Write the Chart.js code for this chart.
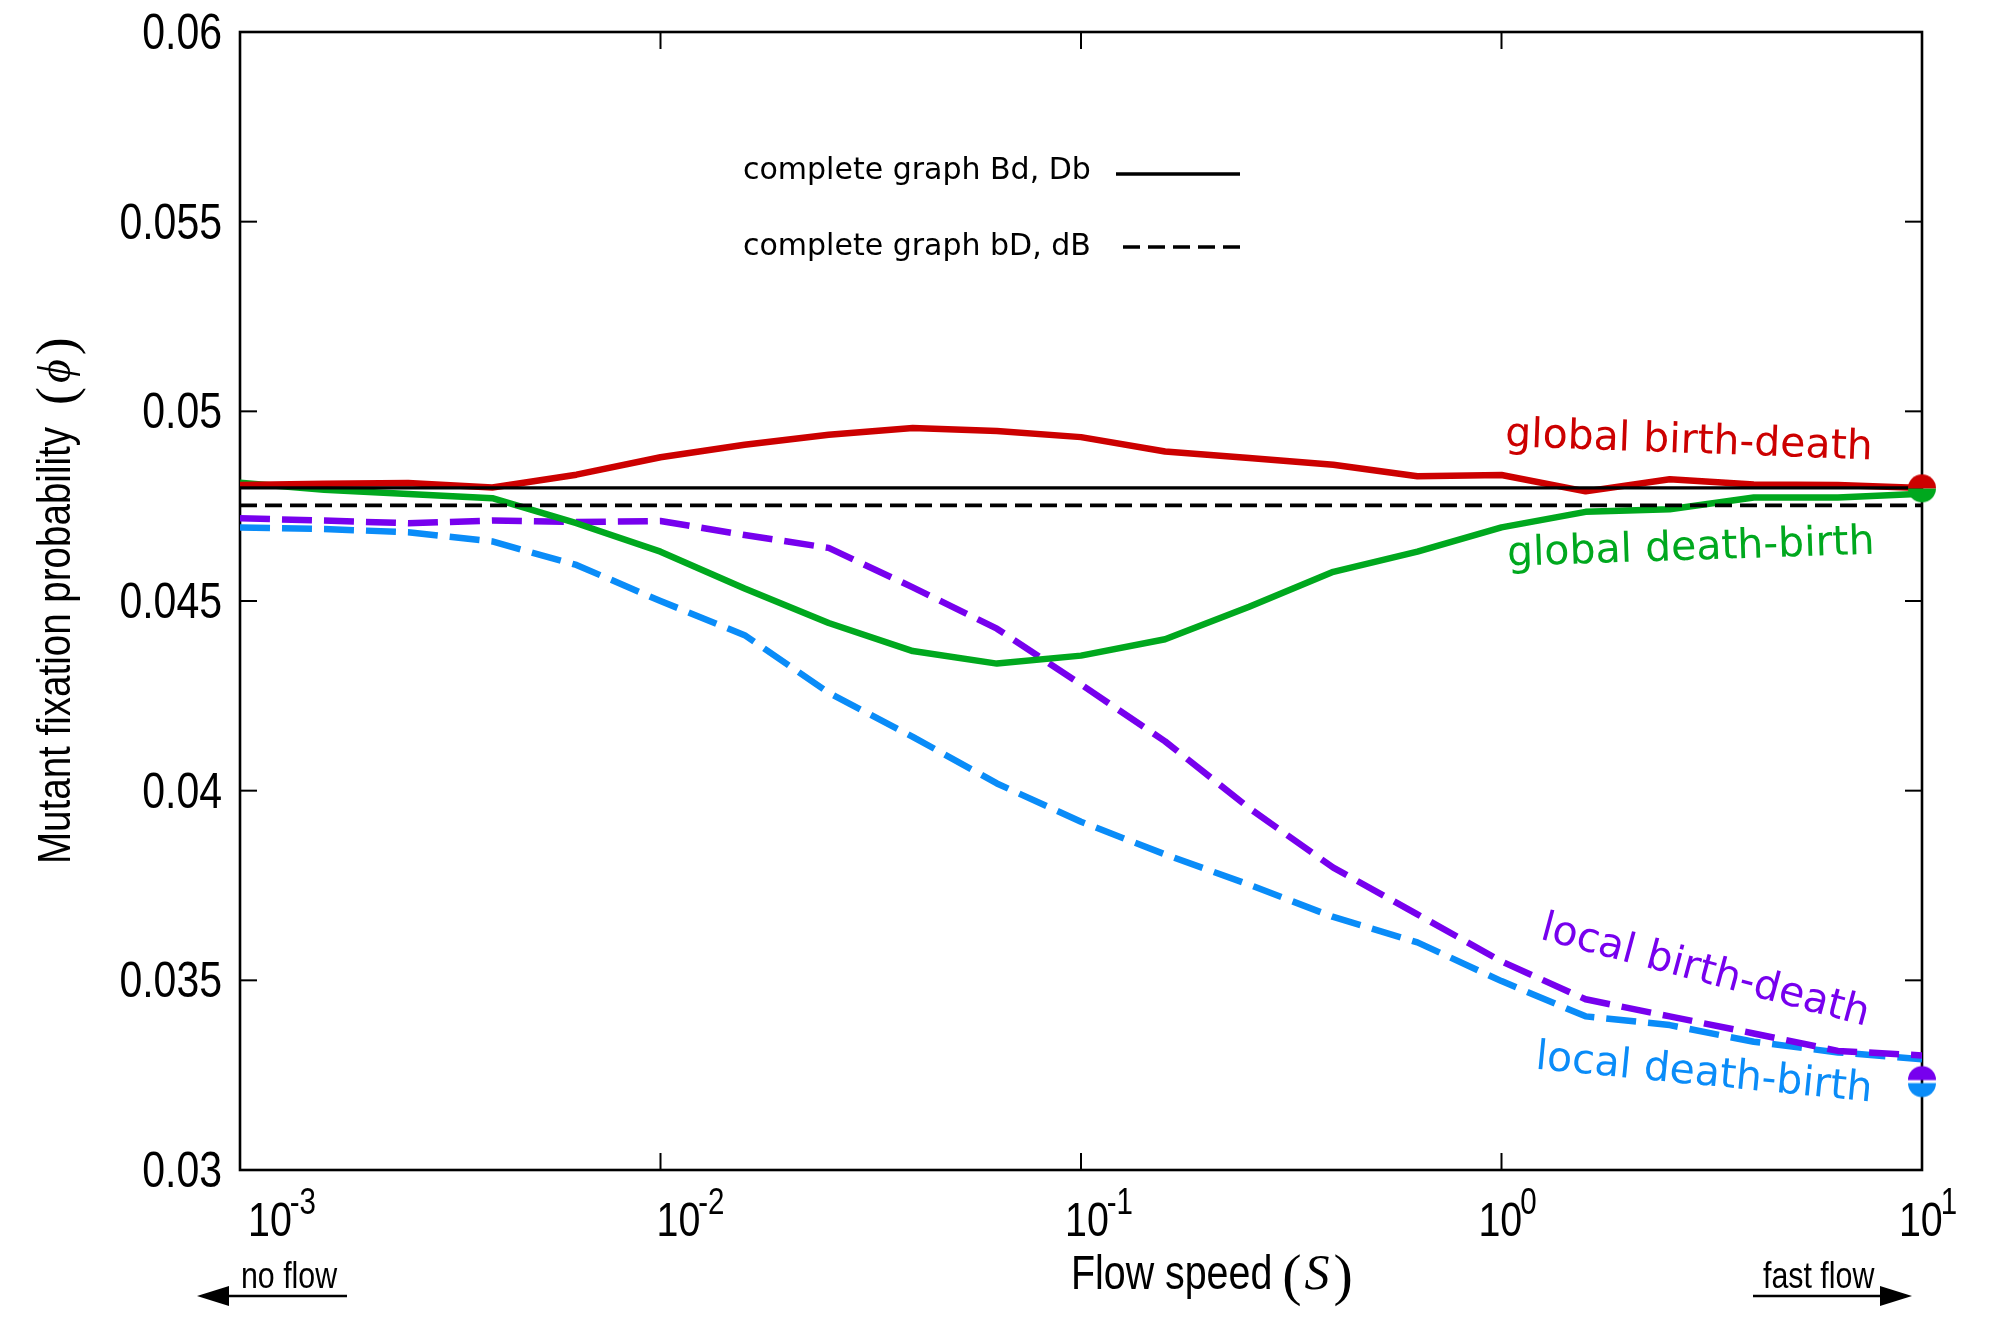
<!DOCTYPE html>
<html>
<head>
<meta charset="utf-8">
<script src="https://cdn.jsdelivr.net/npm/chart.js@4.4.1/dist/chart.umd.min.js"></script>
<style>
  html, body { margin: 0; padding: 0; background: #ffffff; }
  canvas { display: block; }
</style>
</head>
<body>
<canvas id="chart" width="1992" height="1334"></canvas>
<script>
// ---------------- DATA ----------------
const flowSpeed = [0.001, 0.001585, 0.002512, 0.003981, 0.00631, 0.01, 0.01585, 0.02512, 0.03981, 0.0631,
                   0.1, 0.1585, 0.2512, 0.3981, 0.631, 1, 1.585, 2.512, 3.981, 6.31, 10];

const globalBirthDeath = [0.04806, 0.04809, 0.04811, 0.04799, 0.04833, 0.04879, 0.04912, 0.04938, 0.04956, 0.04948,
                          0.04932, 0.04894, 0.04877, 0.04859, 0.04829, 0.04832, 0.04789, 0.04821, 0.04807, 0.04806, 0.04798];
const globalDeathBirth = [0.04812, 0.04793, 0.04782, 0.04771, 0.04705, 0.04630, 0.04533, 0.04442, 0.04368, 0.04335,
                          0.04356, 0.04399, 0.04485, 0.04577, 0.04630, 0.04694, 0.04735, 0.04742, 0.04773, 0.04773, 0.04783];
const localBirthDeath  = [0.04718, 0.04712, 0.04705, 0.04712, 0.04708, 0.04711, 0.04674, 0.04640, 0.04536, 0.04427,
                          0.04280, 0.04130, 0.03954, 0.03797, 0.03674, 0.03550, 0.03450, 0.03405, 0.03360, 0.03314, 0.03302];
const localDeathBirth  = [0.04694, 0.04690, 0.04681, 0.04657, 0.04595, 0.04500, 0.04410, 0.04258, 0.04142, 0.04019,
                          0.03918, 0.03832, 0.03752, 0.03667, 0.03600, 0.03498, 0.03405, 0.03382, 0.03338, 0.03310, 0.03292];

const completeGraphBdDb = 0.04798;   // solid black reference
const completeGraphbDdB = 0.04752;   // dashed black reference
const wellMixedGlobal = 0.04797;     // red/green half-disc marker at S = 10
const wellMixedLocal  = 0.03233;     // purple/blue half-disc marker at S = 10
const markerSpeed = 10;

const xTickValues = [0.001, 0.01, 0.1, 1, 10];
const xTickExponents = ['-3', '-2', '-1', '0', '1'];
const yTickValues = [0.03, 0.035, 0.04, 0.045, 0.05, 0.055, 0.06];
const yTickLabels = ['0.03', '0.035', '0.04', '0.045', '0.05', '0.055', '0.06'];

const seriesNames = ['global birth-death', 'global death-birth', 'local birth-death', 'local death-birth'];
const legendNames = ['complete graph Bd, Db', 'complete graph bD, dB'];
const xTitle = 'Flow speed';
const xTitleSymbol = 'S';
const yTitle = 'Mutant fixation probability';
const yTitleSymbol = 'ϕ';
const arrowLeftText = 'no flow';
const arrowRightText = 'fast flow';

// ---------------- STYLE ----------------
const RED = '#cc0000', GREEN = '#00a81e', PURPLE = '#7700ee', BLUE = '#0a8cf8';

function hasFont(name) {
  const c = document.createElement('canvas').getContext('2d');
  const probe = '0.055 Mutant fixation probability';
  c.font = '40px monospace';
  const a = c.measureText(probe).width;
  c.font = '40px "' + name + '", monospace';
  const b = c.measureText(probe).width;
  return Math.abs(a - b) > 0.5;
}
const NARROW_OK = hasFont('Liberation Sans Narrow');

function narrowText(ctx, text, x, y, size, align) {
  ctx.save();
  if (NARROW_OK) {
    ctx.font = size + 'px "Liberation Sans Narrow"';
    ctx.textAlign = align || 'left';
    ctx.fillText(text, x, y);
  } else {
    ctx.font = size + 'px "Liberation Sans", Arial, sans-serif';
    ctx.translate(x, y);
    ctx.scale(0.82, 1);
    ctx.textAlign = align || 'left';
    ctx.fillText(text, 0, 0);
  }
  ctx.restore();
}
function narrowWidth(ctx, text, size) {
  ctx.save();
  let w;
  if (NARROW_OK) { ctx.font = size + 'px "Liberation Sans Narrow"'; w = ctx.measureText(text).width; }
  else { ctx.font = size + 'px "Liberation Sans", Arial, sans-serif'; w = ctx.measureText(text).width * 0.82; }
  ctx.restore();
  return w;
}

function halfDisc(color, top, r, gap) {
  const s = 2 * r + 6;
  const c = document.createElement('canvas');
  c.width = s; c.height = s;
  const g = c.getContext('2d');
  g.fillStyle = color;
  g.beginPath();
  const cx = s / 2, cy = s / 2 + (top ? -gap : gap);
  if (top) g.arc(cx, cy, r, Math.PI, 2 * Math.PI);
  else g.arc(cx, cy, r, 0, Math.PI);
  g.closePath();
  g.fill();
  return c;
}

const pts = vals => flowSpeed.map((s, i) => ({ x: s, y: vals[i] }));
const hline = v => [{ x: flowSpeed[0], y: v }, { x: flowSpeed[flowSpeed.length - 1], y: v }];

const lineBase = { pointRadius: 0, pointHoverRadius: 0, tension: 0, fill: false,
                   borderCapStyle: 'butt', borderJoinStyle: 'round' };

const datasets = [
  { label: 'well-mixed global (top)', data: [{ x: markerSpeed, y: wellMixedGlobal }], showLine: false,
    pointStyle: halfDisc(RED, true, 14, 0), pointRadius: 14, clip: false },
  { label: 'well-mixed global (bottom)', data: [{ x: markerSpeed, y: wellMixedGlobal }], showLine: false,
    pointStyle: halfDisc(GREEN, false, 14, 0), pointRadius: 14, clip: false },
  { label: 'well-mixed local (top)', data: [{ x: markerSpeed, y: wellMixedLocal }], showLine: false,
    pointStyle: halfDisc(PURPLE, true, 14, 1.5), pointRadius: 14, clip: false },
  { label: 'well-mixed local (bottom)', data: [{ x: markerSpeed, y: wellMixedLocal }], showLine: false,
    pointStyle: halfDisc(BLUE, false, 14, 1.5), pointRadius: 14, clip: false },
  Object.assign({ label: legendNames[0], data: hline(completeGraphBdDb), borderColor: '#000', borderWidth: 3.2 }, lineBase),
  Object.assign({ label: legendNames[1], data: hline(completeGraphbDdB), borderColor: '#000', borderWidth: 3.8,
                  borderDash: [17, 8] }, lineBase),
  Object.assign({ label: seriesNames[0], data: pts(globalBirthDeath), borderColor: RED, borderWidth: 6.5 }, lineBase),
  Object.assign({ label: seriesNames[1], data: pts(globalDeathBirth), borderColor: GREEN, borderWidth: 6.5 }, lineBase),
  Object.assign({ label: seriesNames[2], data: pts(localBirthDeath), borderColor: PURPLE, borderWidth: 6.5,
                  borderDash: [30, 12] }, lineBase),
  Object.assign({ label: seriesNames[3], data: pts(localDeathBirth), borderColor: BLUE, borderWidth: 6.5,
                  borderDash: [30, 12] }, lineBase)
];

// curve labels: anchored in data coordinates
const curveLabels = [
  { text: seriesNames[0], color: RED,    s: 2.79, phi: 0.04919, angle: 2.1 },
  { text: seriesNames[1], color: GREEN,  s: 2.82, phi: 0.04637, angle: -1.9 },
  { text: seriesNames[2], color: PURPLE, s: 3.05, phi: 0.03522, angle: 15 },
  { text: seriesNames[3], color: BLUE,   s: 3.03, phi: 0.03252, angle: 5.6 }
];

const decorations = {
  id: 'decorations',
  beforeDraw(chart) {
    const ctx = chart.ctx;
    ctx.save();
    ctx.fillStyle = '#ffffff';
    ctx.fillRect(0, 0, chart.width, chart.height);
    ctx.restore();
  },
  beforeDatasetsDraw(chart) {
    const { ctx, chartArea: a, scales: { x, y } } = chart;
    ctx.save();
    ctx.strokeStyle = '#000';
    ctx.lineWidth = 2.6;
    ctx.strokeRect(a.left, a.top, a.right - a.left, a.bottom - a.top);
    ctx.lineWidth = 2;
    const T = 17;
    const seg = (x1, y1, x2, y2) => { ctx.beginPath(); ctx.moveTo(x1, y1); ctx.lineTo(x2, y2); ctx.stroke(); };
    xTickValues.forEach(v => {
      const px = x.getPixelForValue(v);
      seg(px, a.bottom, px, a.bottom - T);
      seg(px, a.top, px, a.top + T);
    });
    yTickValues.forEach(v => {
      const py = y.getPixelForValue(v);
      seg(a.left, py, a.left + T, py);
      seg(a.right, py, a.right - T, py);
    });
    ctx.restore();
  },
  afterDraw(chart) {
    const { ctx, chartArea: a, scales: { x, y } } = chart;
    ctx.save();
    ctx.fillStyle = '#000';
    ctx.textBaseline = 'alphabetic';

    // y tick labels
    yTickValues.forEach((v, i) => {
      const py = y.getPixelForValue(v);
      narrowText(ctx, yTickLabels[i], a.left - 18, py + 17, 50, 'right');
    });

    // x tick labels with superscripts (gnuplot-style placement)
    xTickValues.forEach((v, i) => {
      const e = parseInt(xTickExponents[i], 10);
      const shift = 6 + Math.max(0, -e) * 12;
      const wBase = narrowWidth(ctx, '10', 48);
      const wExp = narrowWidth(ctx, xTickExponents[i], 36);
      const total = wBase + wExp - 2;
      const start = x.getPixelForValue(v) + shift - total / 2;
      narrowText(ctx, '10', start, a.bottom + 66, 48, 'left');
      narrowText(ctx, xTickExponents[i], start + wBase - 2, a.bottom + 44, 36, 'left');
    });

    // x title
    {
      const base = a.bottom + 119;
      const x0 = (a.left + a.right) / 2 - 10;
      narrowText(ctx, xTitle, x0, base, 48, 'left');
      let cx = x0 + narrowWidth(ctx, xTitle, 48) + 10;
      ctx.font = '58px "Liberation Serif", "DejaVu Serif", serif';
      ctx.textAlign = 'left';
      ctx.fillText('(', cx, base + 5);
      cx += ctx.measureText('(').width + 3;
      ctx.font = 'italic 50px "Liberation Serif", "DejaVu Serif", serif';
      ctx.fillText(xTitleSymbol, cx, base);
      cx += ctx.measureText(xTitleSymbol).width + 4;
      ctx.font = '58px "Liberation Serif", "DejaVu Serif", serif';
      ctx.fillText(')', cx, base + 5);
    }

    // y title (rotated)
    {
      const cy = (a.top + a.bottom) / 2;
      ctx.save();
      ctx.translate(a.left - 170, cy + 263);
      ctx.rotate(-Math.PI / 2);
      narrowText(ctx, yTitle, 0, 0, 47, 'left');
      let cx = narrowWidth(ctx, yTitle, 47) + 22;
      ctx.font = '54px "Liberation Serif", "DejaVu Serif", serif';
      ctx.textAlign = 'left';
      ctx.fillText('(', cx, 4);
      cx += ctx.measureText('(').width + 4;
      ctx.font = 'italic 46px "Liberation Serif", "DejaVu Serif", serif';
      ctx.fillText(yTitleSymbol, cx, 0);
      cx += ctx.measureText(yTitleSymbol).width + 4;
      ctx.font = '54px "Liberation Serif", "DejaVu Serif", serif';
      ctx.fillText(')', cx, 4);
      ctx.restore();
    }

    // arrows with captions
    const arrow = (xFrom, xTip, yy) => {
      ctx.lineWidth = 2.5;
      ctx.strokeStyle = '#000';
      const dir = Math.sign(xTip - xFrom);
      ctx.beginPath(); ctx.moveTo(xFrom, yy); ctx.lineTo(xTip - dir * 28, yy); ctx.stroke();
      ctx.beginPath(); ctx.moveTo(xTip, yy); ctx.lineTo(xTip - dir * 32, yy - 10); ctx.lineTo(xTip - dir * 32, yy + 10);
      ctx.closePath(); ctx.fill();
    };
    arrow(a.left + 107, a.left - 43, a.bottom + 126);
    narrowText(ctx, arrowLeftText, a.left + 1, a.bottom + 118, 37, 'left');
    arrow(a.right - 169, a.right - 10, a.bottom + 126);
    narrowText(ctx, arrowRightText, a.right - 159, a.bottom + 118, 37, 'left');

    // legend (inside plot)
    ctx.font = '30px "DejaVu Sans", sans-serif';
    ctx.textAlign = 'left';
    ctx.fillText(legendNames[0], a.left + 503, a.top + 147);
    ctx.fillText(legendNames[1], a.left + 503, a.top + 223);
    ctx.lineWidth = 3.5;
    ctx.beginPath(); ctx.moveTo(a.left + 876, a.top + 142); ctx.lineTo(a.left + 1000, a.top + 142); ctx.stroke();
    ctx.setLineDash([17, 8]);
    ctx.beginPath(); ctx.moveTo(a.left + 883, a.top + 215); ctx.lineTo(a.left + 1000, a.top + 215); ctx.stroke();
    ctx.setLineDash([]);

    // curve labels
    ctx.font = '41px "DejaVu Sans", sans-serif';
    ctx.textAlign = 'center';
    ctx.textBaseline = 'middle';
    curveLabels.forEach(l => {
      ctx.save();
      ctx.translate(x.getPixelForValue(l.s), y.getPixelForValue(l.phi));
      ctx.rotate(l.angle * Math.PI / 180);
      ctx.fillStyle = l.color;
      ctx.fillText(l.text, 0, 0);
      ctx.restore();
    });
    ctx.restore();
  }
};

new Chart(document.getElementById('chart'), {
  type: 'line',
  data: { datasets },
  options: {
    responsive: false,
    animation: false,
    devicePixelRatio: 1,
    layout: { padding: { left: 240, right: 70, top: 32, bottom: 164 } },
    plugins: { legend: { display: false }, tooltip: { enabled: false } },
    events: [],
    scales: {
      x: { type: 'logarithmic', min: 0.001, max: 10, display: false },
      y: { type: 'linear', min: 0.03, max: 0.06, display: false }
    }
  },
  plugins: [decorations]
});
</script>
</body>
</html>
